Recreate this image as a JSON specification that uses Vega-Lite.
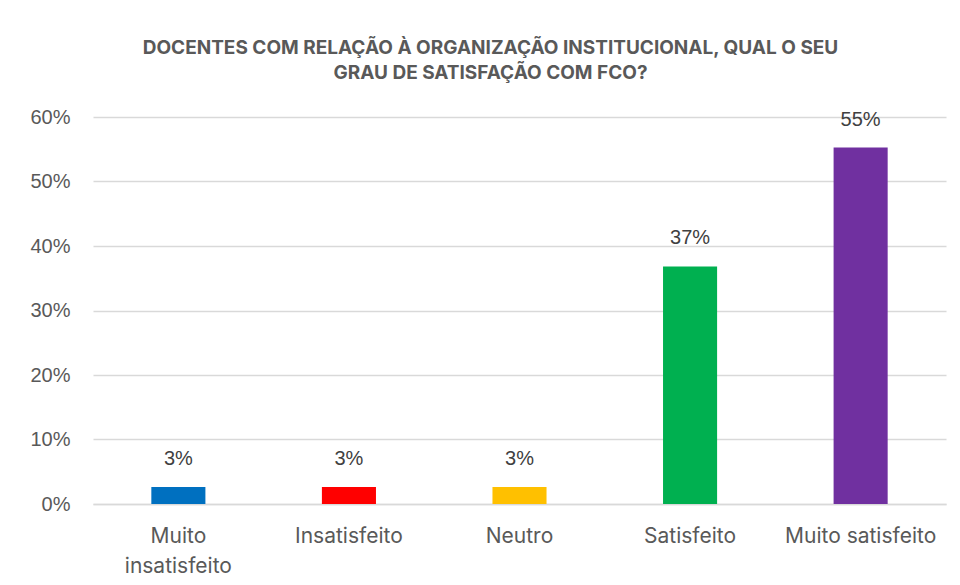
{
  "$schema": "https://vega.github.io/schema/vega-lite/v6.json",
  "width": 853,
  "height": 387,
  "autosize": {"type": "none"},
  "padding": {"left": 93, "top": 117, "right": 14, "bottom": 81},
  "background": "white",
  "title": {
    "text": ["DOCENTES COM RELAÇÃO À ORGANIZAÇÃO INSTITUCIONAL, QUAL O SEU", "GRAU DE SATISFAÇÃO COM FCO?"],
    "anchor": "middle",
    "dx": -29,
    "offset": 24,
    "font": "Inter",
    "fontSize": 19,
    "fontWeight": "bold",
    "color": "#595959",
    "lineHeight": 25
  },
  "data": {
    "values": [
      {"categoria": "Muito insatisfeito", "valor": 0.0263, "rotulo": "3%", "cor": "#0070C0"},
      {"categoria": "Insatisfeito", "valor": 0.0263, "rotulo": "3%", "cor": "#FF0000"},
      {"categoria": "Neutro", "valor": 0.0263, "rotulo": "3%", "cor": "#FFC000"},
      {"categoria": "Satisfeito", "valor": 0.3684, "rotulo": "37%", "cor": "#00B050"},
      {"categoria": "Muito satisfeito", "valor": 0.5526, "rotulo": "55%", "cor": "#7030A0"}
    ]
  },
  "encoding": {
    "x": {
      "field": "categoria",
      "type": "nominal",
      "sort": null,
      "scale": {"paddingInner": 0.683, "paddingOuter": 0.342},
      "axis": {
        "title": null,
        "labelAngle": 0,
        "labelFont": "Inter",
        "labelFontSize": 21,
        "labelColor": "#595959",
        "labelPadding": 21,
        "labelLineHeight": 30,
        "labelExpr": "datum.label == 'Muito insatisfeito' ? ['Muito', 'insatisfeito'] : datum.label",
        "ticks": false,
        "domain": true,
        "domainColor": "#d9d9d9",
        "domainWidth": 1.5
      }
    },
    "y": {
      "field": "valor",
      "type": "quantitative",
      "scale": {"domain": [0, 0.6]},
      "axis": {
        "title": null,
        "format": ".0%",
        "values": [0, 0.1, 0.2, 0.3, 0.4, 0.5, 0.6],
        "labelFont": "Liberation Sans",
        "labelFontSize": 20,
        "labelColor": "#595959",
        "labelPadding": 23,
        "ticks": false,
        "domain": false,
        "gridColor": "#d9d9d9",
        "gridWidth": 1.5
      }
    }
  },
  "layer": [
    {
      "mark": {"type": "bar"},
      "encoding": {
        "color": {"field": "cor", "type": "nominal", "scale": null}
      }
    },
    {
      "mark": {"type": "text", "dy": -18, "baseline": "bottom", "font": "Liberation Sans", "fontSize": 20, "color": "#404040"},
      "encoding": {
        "text": {"field": "rotulo"}
      }
    }
  ],
  "config": {"view": {"stroke": null}}
}
